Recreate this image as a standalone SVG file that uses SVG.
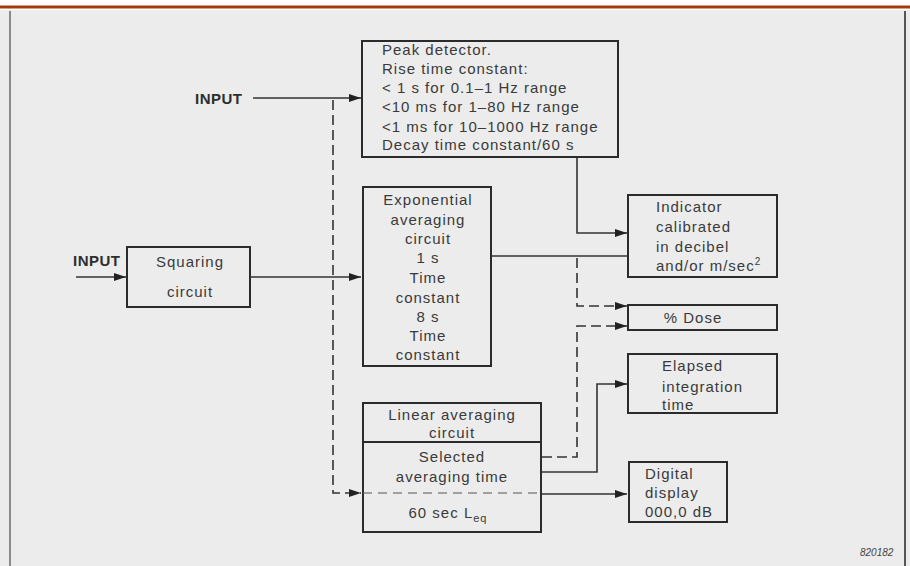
<svg xmlns="http://www.w3.org/2000/svg" width="910" height="566" viewBox="0 0 910 566">
<style>
.bg{fill:#ececec}
.box{fill:none;stroke:#2b2b2b;stroke-width:2}
.ln{fill:none;stroke:#333;stroke-width:1.6}
.ds{fill:none;stroke:#333;stroke-width:1.6;stroke-dasharray:10 5}
.t{font-family:"Liberation Sans",Arial,sans-serif;font-size:15px;fill:#3a3a3a;letter-spacing:1px}
.c{text-anchor:middle}
.lab{font-family:"Liberation Sans",Arial,sans-serif;font-size:15px;fill:#2e2e2e;font-weight:bold;letter-spacing:0.5px}
</style>
<defs>
<marker id="ah" viewBox="0 0 12 8" refX="12" refY="4" markerWidth="12" markerHeight="8" markerUnits="userSpaceOnUse" orient="auto">
<path d="M0,0 L12,4 L0,8 z" fill="#222"/>
</marker>
</defs>
<rect x="0" y="0" width="910" height="566" fill="#ffffff"/>
<rect class="bg" x="0" y="10" width="910" height="556"/>
<line x1="0" y1="7" x2="910" y2="7" stroke="#a23d0a" stroke-width="3"/>
<line x1="10" y1="11" x2="10" y2="566" stroke="#8a8a8a" stroke-width="2"/>
<line x1="905" y1="11" x2="905" y2="566" stroke="#555" stroke-width="2"/>

<g id="connectors">
<line class="ln" x1="253" y1="98" x2="361" y2="98" marker-end="url(#ah)"/>
<polyline class="ds" points="333,100 333,493 361,493" marker-end="url(#ah)"/>
<line class="ln" x1="76" y1="277" x2="126" y2="277" marker-end="url(#ah)"/>
<line class="ln" x1="250" y1="277" x2="361" y2="277" marker-end="url(#ah)"/>
<polyline class="ln" points="577,157 577,233 627,233" marker-end="url(#ah)"/>
<line class="ln" x1="491" y1="256" x2="628" y2="256"/>
<polyline class="ds" points="577,258 577,306 627,306" marker-end="url(#ah)"/>
<polyline class="ds" points="542,457 577,457 577,326 627,326" marker-end="url(#ah)"/>
<polyline class="ln" points="541,472 597,472 597,384 627,384" marker-end="url(#ah)"/>
<line class="ln" x1="541" y1="494" x2="627" y2="494" marker-end="url(#ah)"/>
</g>

<g id="input1"><text class="lab" x="195" y="104">INPUT</text></g>
<g id="input2"><text class="lab" x="73" y="266">INPUT</text></g>

<g id="peak">
<rect class="box" x="362" y="41" width="256" height="116"/>
<text class="t" x="382" y="55">Peak detector.</text>
<text class="t" x="382" y="74">Rise time constant:</text>
<text class="t" x="382" y="93">&lt; 1 s for 0.1–1 Hz range</text>
<text class="t" x="382" y="112">&lt;10 ms for 1–80 Hz range</text>
<text class="t" x="382" y="132">&lt;1 ms for 10–1000 Hz range</text>
<text class="t" x="382" y="150">Decay time constant/60 s</text>
</g>

<g id="squaring">
<rect class="box" x="127" y="247" width="123" height="60"/>
<text class="t c" x="190" y="267">Squaring</text>
<text class="t c" x="190" y="297">circuit</text>
</g>

<g id="exponential">
<rect class="box" x="363" y="187" width="128" height="179"/>
<text class="t c" x="428" y="205">Exponential</text>
<text class="t c" x="428" y="225">averaging</text>
<text class="t c" x="428" y="244">circuit</text>
<text class="t c" x="428" y="263">1 s</text>
<text class="t c" x="428" y="283">Time</text>
<text class="t c" x="428" y="303">constant</text>
<text class="t c" x="428" y="322">8 s</text>
<text class="t c" x="428" y="341">Time</text>
<text class="t c" x="428" y="360">constant</text>
</g>

<g id="linear">
<rect class="box" x="363" y="403" width="178" height="129"/>
<line x1="363" y1="442" x2="541" y2="442" stroke="#2b2b2b" stroke-width="2"/>
<line x1="363" y1="493" x2="541" y2="493" stroke="#555" stroke-width="1.2" stroke-dasharray="9 6"/>
<text class="t c" x="452" y="420">Linear averaging</text>
<text class="t c" x="452" y="438">circuit</text>
<text class="t c" x="452" y="462">Selected</text>
<text class="t c" x="452" y="482">averaging time</text>
<text class="t c" x="448" y="518">60 sec L<tspan font-size="11" dy="4">eq</tspan></text>
</g>

<g id="indicator">
<rect class="box" x="628" y="195" width="149" height="82"/>
<text class="t" x="656" y="212">Indicator</text>
<text class="t" x="656" y="232">calibrated</text>
<text class="t" x="656" y="252">in decibel</text>
<text class="t" x="656" y="271">and/or m/sec<tspan font-size="10" dy="-6">2</tspan></text>
</g>

<g id="dose">
<rect class="box" x="628" y="305" width="149" height="25"/>
<text class="t c" x="693" y="323">% Dose</text>
</g>

<g id="elapsed">
<rect class="box" x="628" y="354" width="149" height="59"/>
<text class="t" x="662" y="371">Elapsed</text>
<text class="t" x="662" y="392">integration</text>
<text class="t" x="662" y="410">time</text>
</g>

<g id="digital">
<rect class="box" x="629" y="462" width="98" height="60"/>
<text class="t" x="645" y="479">Digital</text>
<text class="t" x="645" y="498">display</text>
<text class="t" x="645" y="517">000,0 dB</text>
</g>

<text x="860" y="556" font-family="Liberation Sans,Arial,sans-serif" font-size="10" font-style="italic" fill="#444">820182</text>
</svg>
